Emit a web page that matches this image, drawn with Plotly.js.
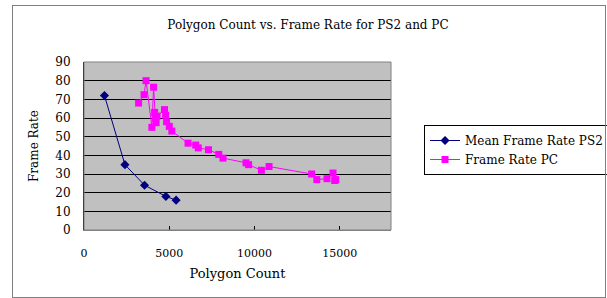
<!DOCTYPE html>
<html>
<head>
<meta charset="utf-8">
<script src="https://cdn.plot.ly/plotly-3.0.1.min.js"></script>
<style>
  html, body { margin: 0; padding: 0; background: #fff; overflow: hidden; }
  #wrap { position: relative; width: 607px; height: 298px; overflow: hidden; }
  #chart { width: 620px; height: 298px; }
  #frame { position: absolute; left: 12px; top: 5px; width: 592px; height: 291px;
           border: 1px solid #7f7f7f; pointer-events: none; }
</style>
</head>
<body>
<div id="wrap">
  <div id="chart"></div>
  <div id="frame"></div>
</div>
<script>
// Mean Frame Rate PS2
const ps2Polygons = [1200, 2400, 3550, 4800, 5400];
const ps2FrameRate = [72, 35, 24, 18, 16];

// Frame Rate PC
const pcPolygons = [3200, 3520, 3640, 3980, 4080, 4140, 4190, 4230, 4280, 4720, 4790, 4840, 5000, 5150,
                    6100, 6550, 6700, 7300, 7900, 8150, 9500, 9650, 10400, 10850,
                    13350, 13650, 14250, 14600, 14700, 14760];
const pcFrameRate = [68, 72.5, 80, 55, 76.5, 63, 60, 57.5, 61, 64.5, 61.5, 58, 55.5, 53,
                     46.5, 45.5, 44, 43, 40.5, 38.5, 36, 35, 32, 34,
                     30, 27, 27.5, 30.5, 26.5, 27];

const xTicks = [0, 5000, 10000, 15000];
const yTicks = [0, 10, 20, 30, 40, 50, 60, 70, 80, 90];

const serif = '"DejaVu Serif", "Liberation Serif", serif';

const traces = [
  {
    x: ps2Polygons, y: ps2FrameRate, type: 'scatter', mode: 'lines+markers',
    name: 'Mean Frame Rate PS2',
    line: { color: '#000080', width: 1 },
    marker: { symbol: 'diamond', size: 7, color: '#000080' }
  },
  {
    x: pcPolygons, y: pcFrameRate, type: 'scatter', mode: 'lines+markers',
    name: 'Frame Rate PC',
    line: { color: '#FF00FF', width: 1 },
    marker: { symbol: 'square', size: 7, color: '#FF00FF' }
  }
];

const layout = {
  width: 620, height: 298,
  margin: { l: 84, r: 228, t: 62, b: 68 },
  paper_bgcolor: '#ffffff',
  plot_bgcolor: '#c0c0c0',
  font: { family: serif, size: 11, color: '#000' },
  title: {
    text: 'Polygon Count vs. Frame Rate for PS2 and PC',
    font: { family: serif, size: 12, color: '#000' },
    x: 308 / 620, xref: 'container', xanchor: 'center',
    y: 0.916, yref: 'container', yanchor: 'middle'
  },
  xaxis: {
    range: [0, 18000],
    tickvals: xTicks,
    ticktext: xTicks.map(String),
    ticks: 'inside', ticklen: 4, tickcolor: '#000',
    showgrid: false, zeroline: false,
    showline: true, linecolor: '#808080', linewidth: 1,
    ticklabelstandoff: 13,
    tickfont: { family: serif, size: 11 },
    title: { text: 'Polygon Count', font: { family: serif, size: 13 }, standoff: 9 }
  },
  yaxis: {
    range: [0, 90],
    tickvals: yTicks,
    ticks: '', showgrid: true, gridcolor: '#000000', gridwidth: 1,
    zeroline: false,
    showline: true, linecolor: '#000', linewidth: 1,
    ticklabelstandoff: 10,
    tickfont: { family: serif, size: 12 },
    title: { text: 'Frame Rate', font: { family: serif, size: 12 }, standoff: 14 }
  },
  shapes: [
    { type: 'rect', xref: 'paper', yref: 'paper', x0: 0, x1: 1, y0: 0, y1: 1,
      line: { color: '#808080', width: 1 }, fillcolor: 'rgba(0,0,0,0)', layer: 'above' }
  ],
  legend: {
    x: 1.104, xanchor: 'left', y: 0.625, yanchor: 'top',
    bgcolor: '#ffffff', bordercolor: '#000', borderwidth: 1,
    font: { family: serif, size: 12, color: '#000' },
    itemwidth: 30
  },
  showlegend: true
};

Plotly.newPlot('chart', traces, layout, { displayModeBar: false, staticPlot: true });
</script>
</body>
</html>
